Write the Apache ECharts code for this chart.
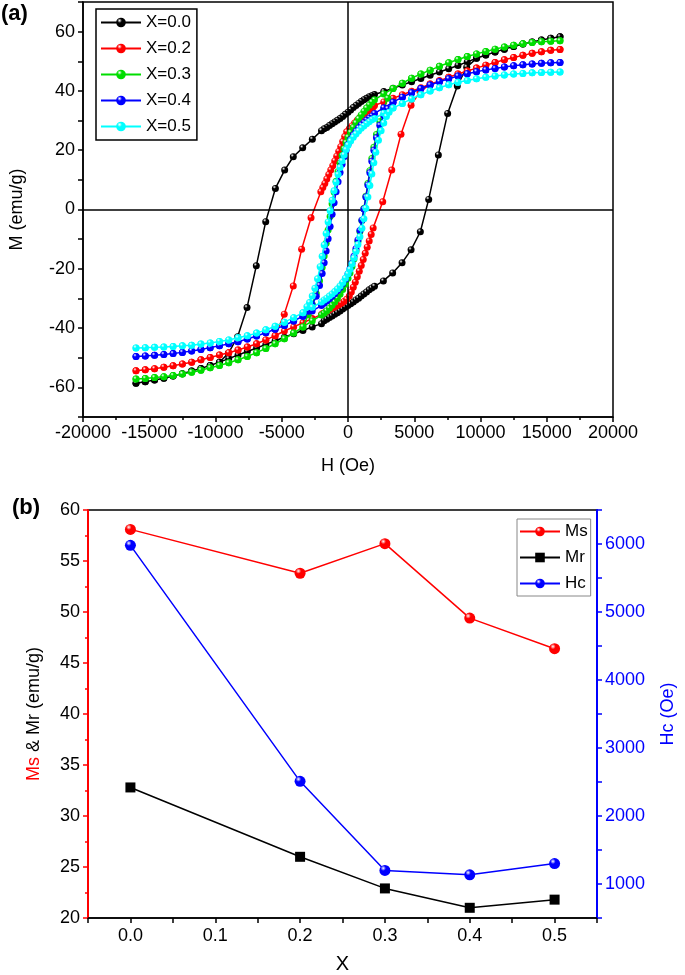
<!DOCTYPE html>
<html>
<head>
<meta charset="utf-8">
<script src="https://cdn.jsdelivr.net/npm/echarts@6/dist/echarts.min.js"></script>
<style>
  html, body { margin: 0; padding: 0; background: #fff; }
  #main { width: 685px; height: 975px; }
</style>
</head>
<body>
<div id="main"></div>
<script>
// ---------- (a) hysteresis loops ----------
// field positions of the sparse tail markers (upper tail: +H, lower tail: -H)
var tailH = [16000, 15300, 14600, 13900, 13200, 12500, 11800, 11100, 10400, 9700, 9000, 8300, 7600, 6900, 6200, 5500, 4800, 4100, 3400, 2700, 2000];

// X = 0.0
var up00 = [58.3, 57.8, 57.2, 56.5, 55.8, 55.0, 54.1, 53.1, 52.1, 51.0, 49.8, 48.6, 47.5, 46.4, 45.3, 44.2, 43.1, 42.0, 40.9, 39.8, 38.8];
var lo00 = [-58.6, -58.1, -57.5, -56.9, -56.2, -55.4, -54.5, -53.6, -52.6, -51.5, -50.3, -49.1, -47.9, -46.7, -45.5, -44.3, -43.1, -41.9, -40.8, -39.6, -38.5];
var desc00 = [[1800, 38.4], [1600, 38.0], [1400, 37.5], [1200, 37.0], [1000, 36.4], [800, 35.8], [600, 35.1], [400, 34.4], [200, 33.6], [0, 32.8],
  [-200, 32.1], [-400, 31.4], [-600, 30.7], [-800, 30.1], [-1000, 29.5], [-1200, 28.9], [-1400, 28.3], [-1600, 27.7], [-1800, 27.2], [-2000, 26.6],
  [-2690, 23.7], [-3420, 20.8], [-4130, 17.8], [-4780, 13.3], [-5480, 7.1], [-6210, -4.1], [-6920, -19.0], [-7620, -33.1], [-8330, -42.9], [-9030, -48.5]];
var asc00 = [[-1800, -37.5], [-1600, -37.0], [-1400, -36.4], [-1200, -35.9], [-1000, -35.3], [-800, -34.8], [-600, -34.2], [-400, -33.6], [-200, -33.0], [0, -32.4],
  [200, -31.8], [400, -31.2], [600, -30.5], [800, -29.9], [1000, -29.2], [1200, -28.5], [1400, -27.8], [1600, -27.1], [1800, -26.5], [2000, -25.9],
  [2670, -24.1], [3370, -21.4], [4080, -18.0], [4760, -13.6], [5460, -7.5], [6090, 3.4], [6820, 18.4], [7520, 32.4], [8250, 41.7], [8960, 48.0]];

// X = 0.2
var up02 = [54.0, 53.7, 53.2, 52.7, 52.0, 51.3, 50.5, 49.6, 48.7, 47.7, 46.7, 45.7, 44.6, 43.4, 42.3, 41.1, 39.9, 38.7, 37.5, 36.3, 35.1];
var lo02 = [-54.4, -54.1, -53.7, -53.2, -52.7, -52.1, -51.5, -50.7, -49.9, -49.1, -48.3, -47.4, -46.4, -45.3, -44.0, -42.6, -41.0, -39.6, -38.2, -36.8, -35.4];
var desc02 = [[1900, 34.6], [1700, 34.0], [1500, 33.3], [1300, 32.6], [1100, 31.8], [900, 31.0], [700, 30.1], [500, 29.2], [300, 28.2], [100, 27.2],
  [-100, 26.2], [-250, 24.6], [-400, 22.9], [-550, 21.2], [-700, 19.6], [-850, 18.0], [-1000, 16.4], [-1150, 14.8], [-1300, 13.3], [-1450, 11.8],
  [-1600, 10.3], [-1750, 8.8], [-1900, 7.4], [-2050, 6.0], [-2790, -2.8], [-3500, -13.4], [-4130, -25.8], [-4810, -35.3]];
var asc02 = [[-1900, -35.1], [-1700, -34.6], [-1500, -34.1], [-1300, -33.6], [-1100, -33.1], [-900, -32.6], [-700, -32.1], [-500, -31.6], [-300, -31.0], [-100, -30.3],
  [100, -29.2], [250, -27.8], [400, -26.2], [550, -24.5], [700, -22.7], [850, -20.8], [1000, -18.9], [1150, -16.9], [1300, -14.8], [1450, -12.7],
  [1600, -10.6], [1750, -8.4], [1900, -6.2], [2620, 2.6], [3300, 13.3], [4000, 25.4], [4760, 35.2], [5430, 39.7]];

// X = 0.3
var up03 = [56.9, 56.8, 56.6, 56.3, 55.9, 55.4, 54.8, 54.1, 53.3, 52.5, 51.6, 50.6, 49.5, 48.3, 47.0, 45.7, 44.3, 42.6, 40.8, 39.0, 37.0];
var lo03 = [-57.2, -57.0, -56.7, -56.4, -56.0, -55.5, -54.9, -54.2, -53.4, -52.6, -51.7, -50.7, -49.6, -48.3, -46.9, -45.3, -43.6, -41.7, -39.6, -37.6, -35.6];
var desc03 = [[1800, 36.2], [1600, 35.2], [1400, 34.2], [1200, 33.1], [1000, 31.9], [800, 30.6], [600, 29.2], [400, 27.7], [200, 26.0], [0, 24.4],
  [-150, 22.6], [-300, 20.5], [-450, 18.2], [-600, 15.6], [-750, 12.7], [-900, 9.5], [-1050, 5.9], [-1200, 1.9], [-1350, -2.4], [-1500, -6.9],
  [-1650, -11.4], [-1800, -15.7], [-1950, -19.6], [-2150, -24.0], [-2400, -28.3], [-2700, -32.0], [-3000, -35.5]];
var asc03 = [[-1800, -35.0], [-1600, -34.2], [-1400, -33.3], [-1200, -32.3], [-1000, -31.2], [-800, -30.0], [-600, -28.6], [-400, -27.0], [-200, -25.2], [0, -23.2],
  [150, -21.4], [300, -19.2], [450, -16.7], [600, -13.9], [750, -10.8], [900, -7.4], [1050, -3.7], [1200, 0.3], [1350, 4.5], [1500, 8.8],
  [1650, 13.1], [1800, 17.2], [1950, 21.0], [2150, 25.3], [2400, 29.6], [2700, 34.0], [3000, 37.5]];

// X = 0.4
var up04 = [49.6, 49.5, 49.3, 49.1, 48.8, 48.5, 48.1, 47.6, 47.1, 46.5, 45.8, 45.0, 44.1, 43.1, 42.0, 40.8, 39.4, 37.9, 36.2, 34.3, 32.4];
var lo04 = [-49.6, -49.4, -49.2, -48.9, -48.6, -48.2, -47.7, -47.2, -46.6, -46.0, -45.3, -44.6, -43.7, -42.7, -41.6, -40.4, -39.1, -37.6, -36.0, -34.2, -32.4];
var desc04 = [[1800, 31.5], [1600, 30.8], [1400, 30.1], [1200, 29.3], [1000, 28.5], [800, 27.5], [600, 26.4], [400, 25.1], [200, 23.6], [0, 21.9],
  [-150, 20.0], [-300, 17.8], [-450, 15.3], [-600, 12.5], [-750, 9.4], [-900, 6.0], [-1050, 2.3], [-1200, -1.6], [-1350, -5.7], [-1500, -9.9],
  [-1650, -14.0], [-1800, -18.0], [-1950, -21.6], [-2150, -25.6], [-2400, -29.3], [-2700, -32.3], [-3000, -34.3]];
var asc04 = [[-1800, -31.6], [-1600, -30.9], [-1400, -30.1], [-1200, -29.3], [-1000, -28.4], [-800, -27.4], [-600, -26.3], [-400, -25.0], [-200, -23.5], [0, -21.8],
  [150, -20.1], [300, -18.1], [450, -15.8], [600, -13.2], [750, -10.3], [900, -7.1], [1050, -3.6], [1200, 0.2], [1350, 4.2], [1500, 8.3],
  [1650, 12.4], [1800, 16.3], [1950, 20.0], [2150, 24.2], [2400, 28.4], [2700, 31.8], [3000, 34.0]];

// X = 0.5
var up05 = [46.4, 46.3, 46.2, 46.1, 45.9, 45.7, 45.4, 45.0, 44.6, 44.1, 43.5, 42.9, 42.1, 41.1, 40.0, 38.7, 37.3, 35.8, 34.2, 32.5, 30.7];
var lo05 = [-46.7, -46.6, -46.5, -46.4, -46.2, -46.0, -45.8, -45.4, -45.0, -44.5, -44.0, -43.3, -42.6, -41.7, -40.6, -39.4, -38.0, -36.5, -34.8, -33.0, -31.2];
var desc05 = [[1800, 30.3], [1600, 29.6], [1400, 28.9], [1200, 28.2], [1000, 27.4], [800, 26.5], [600, 25.5], [400, 24.4], [200, 23.1], [0, 21.7],
  [-150, 20.2], [-300, 18.4], [-450, 16.4], [-600, 14.2], [-750, 11.8], [-900, 9.2], [-1050, 6.3], [-1200, 3.1], [-1350, -0.4], [-1500, -4.2],
  [-1650, -8.1], [-1800, -12.0], [-1950, -15.8], [-2100, -19.3], [-2300, -23.4], [-2500, -26.6], [-2700, -29.2], [-2900, -31.4], [-3100, -32.8]];
var asc05 = [[-1800, -30.5], [-1600, -29.9], [-1400, -29.2], [-1200, -28.5], [-1000, -27.7], [-800, -26.8], [-600, -25.8], [-400, -24.6], [-200, -23.2], [0, -21.7],
  [150, -20.2], [300, -18.4], [450, -16.4], [600, -14.2], [750, -11.8], [900, -9.2], [1050, -6.3], [1200, -3.1], [1350, 0.4], [1500, 4.2],
  [1650, 8.1], [1800, 12.0], [1950, 15.8], [2100, 19.3], [2300, 23.4], [2500, 26.6], [2700, 29.2], [2900, 31.4], [3100, 32.8]];

var loopNames = ['X=0.0', 'X=0.2', 'X=0.3', 'X=0.4', 'X=0.5'];
var loopColors = ['#000000', '#ff0000', '#00dd00', '#0000ff', '#00ffff'];

// ---------- (b) Ms, Mr, Hc vs X ----------
var xVals = [0.0, 0.2, 0.3, 0.4, 0.5];
var msVals = [58.1, 53.8, 56.7, 49.4, 46.4];
var mrVals = [32.8, 26.0, 22.9, 21.0, 21.8];
var hcVals = [5980, 2510, 1200, 1135, 1300];

// go round the loop: +16000 down to -16000, then back up
function buildLoop(up, lo, desc, asc) {
  var upper = tailH.map(function (h, i) { return [h, up[i]]; });
  var lower = tailH.map(function (h, i) { return [-h, lo[i]]; });
  var d0 = desc[0][0], d1 = desc[desc.length - 1][0];
  var a0 = asc[0][0], a1 = asc[asc.length - 1][0];
  return [].concat(
    upper.filter(function (p) { return p[0] > d0 + 50; }),
    desc,
    lower.filter(function (p) { return p[0] < d1 - 250; }).reverse(),
    lower.filter(function (p) { return p[0] < a0 - 50; }),
    asc,
    upper.filter(function (p) { return p[0] > a1 + 250; }).reverse()
  );
}

function ball(c) {
  return new echarts.graphic.RadialGradient(0.35, 0.3, 0.7, [
    {offset: 0, color: '#ffffff'},
    {offset: 0.35, color: c},
    {offset: 1, color: c}
  ]);
}

var loops = [
  buildLoop(up00, lo00, desc00, asc00),
  buildLoop(up02, lo02, desc02, asc02),
  buildLoop(up03, lo03, desc03, asc03),
  buildLoop(up04, lo04, desc04, asc04),
  buildLoop(up05, lo05, desc05, asc05)
];

var FONT = 'Arial, "Liberation Sans", sans-serif';

var series = loops.map(function (d, i) {
  var s = {
    name: loopNames[i],
    type: 'line',
    xAxisIndex: 0,
    yAxisIndex: 0,
    data: d,
    symbol: 'circle',
    symbolSize: 7,
    showSymbol: true,
    lineStyle: {color: loopColors[i], width: 1.5},
    itemStyle: {color: ball(loopColors[i]), borderWidth: 0},
    z: 3 + i
  };
  if (i === 0) {
    s.markLine = {
      silent: true,
      symbol: ['none', 'none'],
      label: {show: false},
      lineStyle: {color: '#000', type: 'solid', width: 1.5},
      data: [{xAxis: 0}, {yAxis: 0}]
    };
  }
  return s;
});

series.push({
  name: 'Ms', type: 'line', xAxisIndex: 1, yAxisIndex: 1,
  data: xVals.map(function (x, i) { return [x, msVals[i]]; }),
  symbol: 'circle', symbolSize: 11,
  lineStyle: {color: '#ff0000', width: 1.5},
  itemStyle: {color: ball('#ff0000')}
});
series.push({
  name: 'Mr', type: 'line', xAxisIndex: 1, yAxisIndex: 1,
  data: xVals.map(function (x, i) { return [x, mrVals[i]]; }),
  symbol: 'rect', symbolSize: 10,
  lineStyle: {color: '#000000', width: 1.5},
  itemStyle: {color: '#000000'}
});
series.push({
  name: 'Hc', type: 'line', xAxisIndex: 1, yAxisIndex: 2,
  data: xVals.map(function (x, i) { return [x, hcVals[i]]; }),
  symbol: 'circle', symbolSize: 11,
  lineStyle: {color: '#0000ff', width: 1.5},
  itemStyle: {color: ball('#0000ff')}
});

var myChart = echarts.init(document.getElementById('main'));

var option = {
  animation: false,
  backgroundColor: '#fff',
  textStyle: {fontFamily: FONT},
  graphic: [
    {type: 'text', left: 1, top: 3, style: {text: '(a)', font: 'bold 22px ' + FONT, fill: '#000'}},
    {type: 'text', left: 12, top: 497, style: {text: '(b)', font: 'bold 22px ' + FONT, fill: '#000'}}
  ],
  legend: [{
    data: loopNames,
    orient: 'vertical',
    left: 96, top: 9,
    itemWidth: 40, itemHeight: 12, itemGap: 9,
    padding: [5, 6, 5, 4],
    borderColor: '#000', borderWidth: 1.5,
    textStyle: {fontSize: 17, color: '#000', fontFamily: FONT}
  }, {
    data: ['Ms', 'Mr', 'Hc'],
    orient: 'vertical',
    left: 517, top: 519,
    itemWidth: 40, itemHeight: 12, itemGap: 9,
    padding: [4, 3, 4, 2],
    borderColor: '#888', borderWidth: 1,
    textStyle: {fontSize: 17, color: '#000', fontFamily: FONT}
  }],
  grid: [
    {left: 83, width: 530, top: 2, height: 415, show: true, borderColor: '#000', borderWidth: 1.5},
    {left: 88, width: 511, top: 510, height: 412, show: true, borderColor: '#000', borderWidth: 1.5}
  ],
  xAxis: [{
    gridIndex: 0, type: 'value', min: -20000, max: 20000, interval: 5000,
    name: 'H (Oe)', nameLocation: 'middle', nameGap: 40,
    nameTextStyle: {fontSize: 18, color: '#000', fontFamily: FONT},
    axisLine: {onZero: false, lineStyle: {color: '#000', width: 1.5}},
    axisTick: {length: 5, lineStyle: {color: '#000', width: 1.5}},
    minorTick: {show: true, splitNumber: 2, length: 3, lineStyle: {color: '#000', width: 1.5}},
    axisLabel: {fontSize: 18, color: '#000', margin: 7, fontFamily: FONT,
      formatter: function (v) { return String(Math.round(v)); }},
    splitLine: {show: false}
  }, {
    gridIndex: 1, type: 'value', min: -0.05, max: 0.55, interval: 0.05,
    name: 'X', nameLocation: 'middle', nameGap: 36,
    nameTextStyle: {fontSize: 20, color: '#000', fontFamily: FONT},
    axisLine: {onZero: false, lineStyle: {color: '#000', width: 1.5}},
    axisTick: {length: 5, lineStyle: {color: '#000', width: 1.5}},
    axisLabel: {
      fontSize: 18, color: '#000', margin: 9, fontFamily: FONT,
      formatter: function (v) {
        var k = Math.round(v * 20);
        if (k < 0 || k > 10 || k % 2 !== 0) return '';
        return (k / 20).toFixed(1);
      }
    },
    splitLine: {show: false}
  }],
  yAxis: [{
    gridIndex: 0, type: 'value', min: -70, max: 70, interval: 10,
    name: 'M (emu/g)', nameLocation: 'middle', nameGap: 57, nameRotate: 90,
    nameTextStyle: {fontSize: 18, color: '#000', fontFamily: FONT},
    axisLine: {onZero: false, lineStyle: {color: '#000', width: 1.5}},
    axisTick: {length: 5, lineStyle: {color: '#000', width: 1.5}},
    axisLabel: {
      fontSize: 18, color: '#000', margin: 8, fontFamily: FONT,
      formatter: function (v) { return (Math.round(v) % 20 === 0 && Math.abs(v) < 70) ? String(Math.round(v)) : ''; }
    },
    splitLine: {show: false}
  }, {
    gridIndex: 1, type: 'value', min: 20, max: 60, interval: 5,
    name: '{r|Ms} & Mr (emu/g)', nameLocation: 'middle', nameGap: 45, nameRotate: 90,
    nameTextStyle: {fontSize: 18, color: '#000', fontFamily: FONT,
      rich: {r: {fontSize: 18, color: '#ff0000', fontFamily: FONT}}},
    axisLine: {onZero: false, lineStyle: {color: '#ff0000', width: 2}},
    axisTick: {length: 5, lineStyle: {color: '#ff0000', width: 1.5}},
    minorTick: {show: true, splitNumber: 2, length: 3, lineStyle: {color: '#ff0000', width: 1.5}},
    axisLabel: {fontSize: 18, color: '#000', margin: 8, fontFamily: FONT},
    splitLine: {show: false}, minorSplitLine: {show: false}
  }, {
    gridIndex: 1, type: 'value', position: 'right', min: 500, max: 6500, interval: 500,
    name: 'Hc (Oe)', nameLocation: 'middle', nameGap: 62, nameRotate: 90,
    nameTextStyle: {fontSize: 18, color: '#0000ff', fontFamily: FONT},
    axisLine: {onZero: false, lineStyle: {color: '#0000ff', width: 2}},
    axisTick: {length: 5, lineStyle: {color: '#0000ff', width: 1.5}},
    axisLabel: {
      fontSize: 18, color: '#0000ff', margin: 8, fontFamily: FONT,
      formatter: function (v) { return (Math.round(v) % 1000 === 0) ? String(Math.round(v)) : ''; }
    },
    splitLine: {show: false}
  }],
  series: series
};

myChart.setOption(option);
</script>
</body>
</html>
